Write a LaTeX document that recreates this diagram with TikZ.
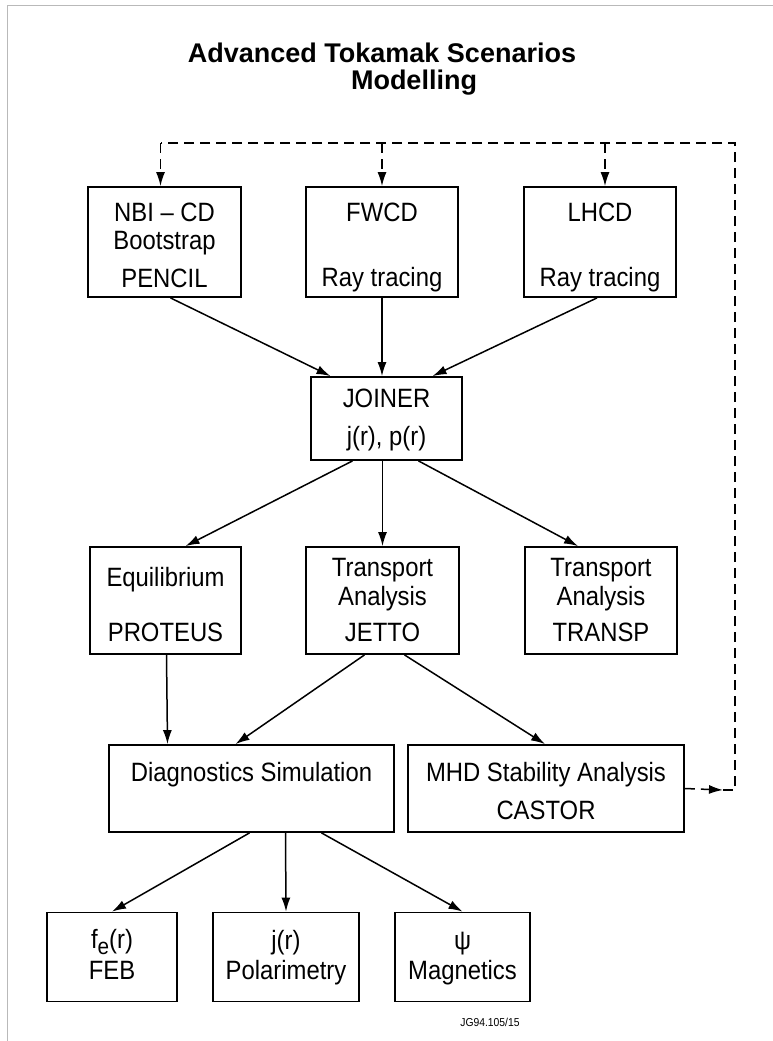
\documentclass[tikz,border=0pt]{standalone}
\usepackage{fontspec}
\setmainfont[FakeStretch=0.9]{Liberation Sans}
\newfontfamily\titlefont{Liberation Sans}
\usetikzlibrary{arrows.meta}

\newcommand\uprule[1]{\rule{0pt}{#1}}
\newcommand\downrule{\rule[-6pt]{0pt}{6pt}}

\tikzset{
    box/.style = {draw, line width=1.8pt, inner sep=0pt, align=center,
                  font=\fontsize{26.5}{30}\selectfont},
    fb/.style  = {dashed, dash pattern=on 10pt off 6pt}
}

\begin{document}
\begin{tikzpicture}[->,>={Latex[length=14pt,width=9pt]},x=1pt,y=-1pt,line width=1.5pt]
            \useasboundingbox (0,0) rectangle (773,1041);
            \draw[-,gray!55,line width=1pt] (7,1041) -- (7,6) -- (773,6);

            \node[font=\titlefont\bfseries\fontsize{27}{27}\selectfont] (t1) at (382,53) {Advanced Tokamak Scenarios};
            \node[font=\titlefont\bfseries\fontsize{27}{27}\selectfont] (t2) at (414,83) {Modelling};

            \node[box,minimum width=153pt,minimum height=110pt] (nbi)  at (164.5,242) {\uprule{31pt}NBI -- CD\\[-2.5pt]Bootstrap\\[8.5pt]PENCIL\downrule};
            \node[box,minimum width=152pt,minimum height=110pt] (fwcd) at (382,242)   {\uprule{30pt}FWCD\\[34.5pt]Ray tracing\downrule};
            \node[box,minimum width=152pt,minimum height=110pt] (lhcd) at (600,242)   {\uprule{30pt}LHCD\\[35.5pt]Ray tracing\downrule};

            \node[box,minimum width=151pt,minimum height=83pt] (join) at (386.5,418.5) {\uprule{21.5pt}JOINER\\[7.5pt]j(r), p(r)\downrule};

            \node[box,minimum width=151pt,minimum height=107pt] (equ) at (165.5,600.5) {\uprule{32.5pt}Equilibrium\\[25.5pt]PROTEUS\downrule};
            \node[box,minimum width=153pt,minimum height=107pt] (jet) at (382.5,600.5) {\uprule{22.5pt}Transport\\[-1pt]Analysis\\[6.5pt]JETTO\downrule};
            \node[box,minimum width=152pt,minimum height=107pt] (trp) at (601,600.5)   {\uprule{22.5pt}Transport\\[-1pt]Analysis\\[6.5pt]TRANSP\downrule};

            \node[box,minimum width=285pt,minimum height=87pt] (diag) at (251.5,788.5) {\uprule{28pt}Diagnostics Simulation\\[7pt]\mbox{}\downrule};
            \node[box,minimum width=276pt,minimum height=87pt] (mhd)  at (546,788.5)   {\uprule{29.5pt}MHD Stability Analysis\\[8.5pt]CASTOR\downrule};

            \node[box,minimum width=130pt,minimum height=89pt] (feb) at (112,957)   {\uprule{20pt}f\raisebox{-6pt}{\fontsize{23}{23}\selectfont e}(r)\\[1.5pt]FEB\downrule};
            \node[box,minimum width=146pt,minimum height=89pt] (pol) at (286,957)   {\uprule{20pt}j(r)\\Polarimetry\downrule};
            \node[box,minimum width=135pt,minimum height=89pt] (mag) at (462.5,957) {\uprule{20pt}ψ\\Magnetics\downrule};

            \node[font=\fontsize{11.5}{11.5}\selectfont] (ref) at (490,1022) {JG94.105/15};

            \draw ([xshift=6pt]nbi.south) -- ([xshift=-56pt]join.north);
            \draw (fwcd.south) -- (fwcd.south |- join.north);
            \draw ([xshift=-3pt]lhcd.south) -- ([xshift=46pt]join.north);

            \draw ([xshift=-34pt]join.south) -- ([xshift=20pt]equ.north);
            \draw (jet.north |- join.south) -- (jet.north);
            \draw ([xshift=32pt]join.south) -- ([xshift=-23pt]trp.north);

            \draw ([xshift=1pt]equ.south) -- ([xshift=-84pt]diag.north);
            \draw ([xshift=-18pt]jet.south) -- ([xshift=-16pt]diag.north);
            \draw ([xshift=22pt]jet.south) -- ([xshift=-1pt]mhd.north);

            \draw ([xshift=-2pt]diag.south) -- (feb.north);
            \draw ([xshift=34pt]diag.south) -- (pol.north);
            \draw ([xshift=70pt]diag.south) -- (mag.north);

            \coordinate (up) at (735,143);
            \coordinate (back) at (735,790);
            \draw[fb] (mhd.east) -- ([xshift=-12pt]back);
            \draw[fb,-] ([xshift=-12pt]back) -- (back) -- (up) -- ([xshift=-4pt]nbi.north |- up);
            \draw[fb] ([xshift=-4pt]nbi.north |- up) -- ([xshift=-4pt]nbi.north);
            \draw[fb] (fwcd.north |- up) -- (fwcd.north);
            \draw[fb] ([xshift=5pt]lhcd.north |- up) -- ([xshift=5pt]lhcd.north);
        \end{tikzpicture}
\end{document}
